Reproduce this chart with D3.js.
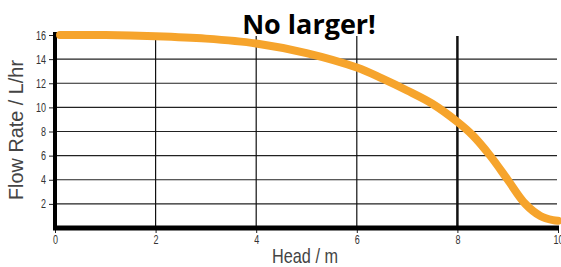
<!DOCTYPE html>
<html><head><meta charset="utf-8">
<script src="https://cdn.jsdelivr.net/npm/d3@7"></script>
<style>body{margin:0;background:#fff}svg{display:block}</style>
</head><body>
<script>
const head = [0.1, 1, 2, 3, 4, 5, 6, 6.5, 7, 7.5, 8, 8.3, 8.65, 9, 9.35, 9.65, 9.9, 10];
const flow = [16, 16, 15.9, 15.7, 15.3, 14.5, 13.3, 12.4, 11.4, 10.3, 8.8, 7.7, 6.0, 4.0, 2.0, 1.0, 0.65, 0.6];
const xTicks = [0, 2, 4, 6, 8, 10];
const yTicks = [2, 4, 6, 8, 10, 12, 14, 16];
const title = "No larger!";
const xLabel = "Head / m";
const yLabel = "Flow Rate / L/hr";

const W = 561, H = 267;
const svg = d3.select("body").append("svg").attr("width", W).attr("height", H);
const x = d3.scaleLinear().domain([0, 10]).range([55, 558]);
const y = d3.scaleLinear().domain([0, 16]).range([228, 35]);
const font = "'Liberation Sans',Arial,sans-serif";

// horizontal grid
svg.append("g").selectAll("line").data(yTicks.filter(d => d < 16)).join("line")
  .attr("x1", x(0)).attr("x2", 557).attr("y1", d => y(d)).attr("y2", d => y(d))
  .attr("stroke", "#222").attr("stroke-width", 1.2);
// vertical grid
svg.append("g").selectAll("line").data([2, 4, 6, 8]).join("line")
  .attr("x1", d => x(d)).attr("x2", d => x(d)).attr("y1", 36).attr("y2", y(0))
  .attr("stroke", "#111").attr("stroke-width", d => d === 8 ? 2.5 : 1.2);

function styleTicks(g) {
  g.select(".domain").remove();
  g.selectAll("line").attr("stroke", "#222");
  g.selectAll("text").attr("font-family", font).attr("font-size", 12.5).attr("fill", "#333")
    .attr("textLength", d => String(d).length * 5).attr("lengthAdjust", "spacingAndGlyphs");
}
// y axis
const gy = svg.append("g").attr("transform", `translate(${x(0)},0)`)
  .call(d3.axisLeft(y).tickValues(yTicks).tickSize(6).tickPadding(3));
styleTicks(gy);
// x axis
const gx = svg.append("g").attr("transform", `translate(0,${y(0)})`)
  .call(d3.axisBottom(x).tickValues(xTicks).tickSize(5).tickPadding(2));
styleTicks(gx);

// thick axis lines
svg.append("line").attr("x1", x(0)).attr("x2", x(0)).attr("y1", 32).attr("y2", y(0) + 2)
  .attr("stroke", "#000").attr("stroke-width", 4);
svg.append("line").attr("x1", x(0) - 2).attr("x2", 559).attr("y1", y(0)).attr("y2", y(0))
  .attr("stroke", "#000").attr("stroke-width", 5);

// curve
const pts = head.map((h, i) => [h, flow[i]]);
svg.append("path").datum(pts)
  .attr("d", d3.line().x(d => x(d[0])).y(d => y(d[1])).curve(d3.curveCatmullRom.alpha(0.5)))
  .attr("fill", "none").attr("stroke", "#F6A42C").attr("stroke-width", 8)
  .attr("stroke-linecap", "round").attr("stroke-linejoin", "round");

// labels
svg.append("text").attr("x", 309).attr("y", 34).attr("text-anchor", "middle")
  .attr("font-family", "'Open Sans',sans-serif").attr("font-weight", "bold")
  .attr("font-size", 27).attr("fill", "#000").text(title);
svg.append("text").attr("x", 305).attr("y", 263).attr("text-anchor", "middle")
  .attr("font-family", font).attr("font-size", 21).attr("fill", "#444")
  .attr("textLength", 66).attr("lengthAdjust", "spacingAndGlyphs").text(xLabel);
svg.append("text").attr("transform", "translate(23,130) rotate(-90)").attr("text-anchor", "middle")
  .attr("font-family", font).attr("font-size", 21).attr("fill", "#444")
  .attr("textLength", 140).attr("lengthAdjust", "spacingAndGlyphs").text(yLabel);
</script>
</body></html>
